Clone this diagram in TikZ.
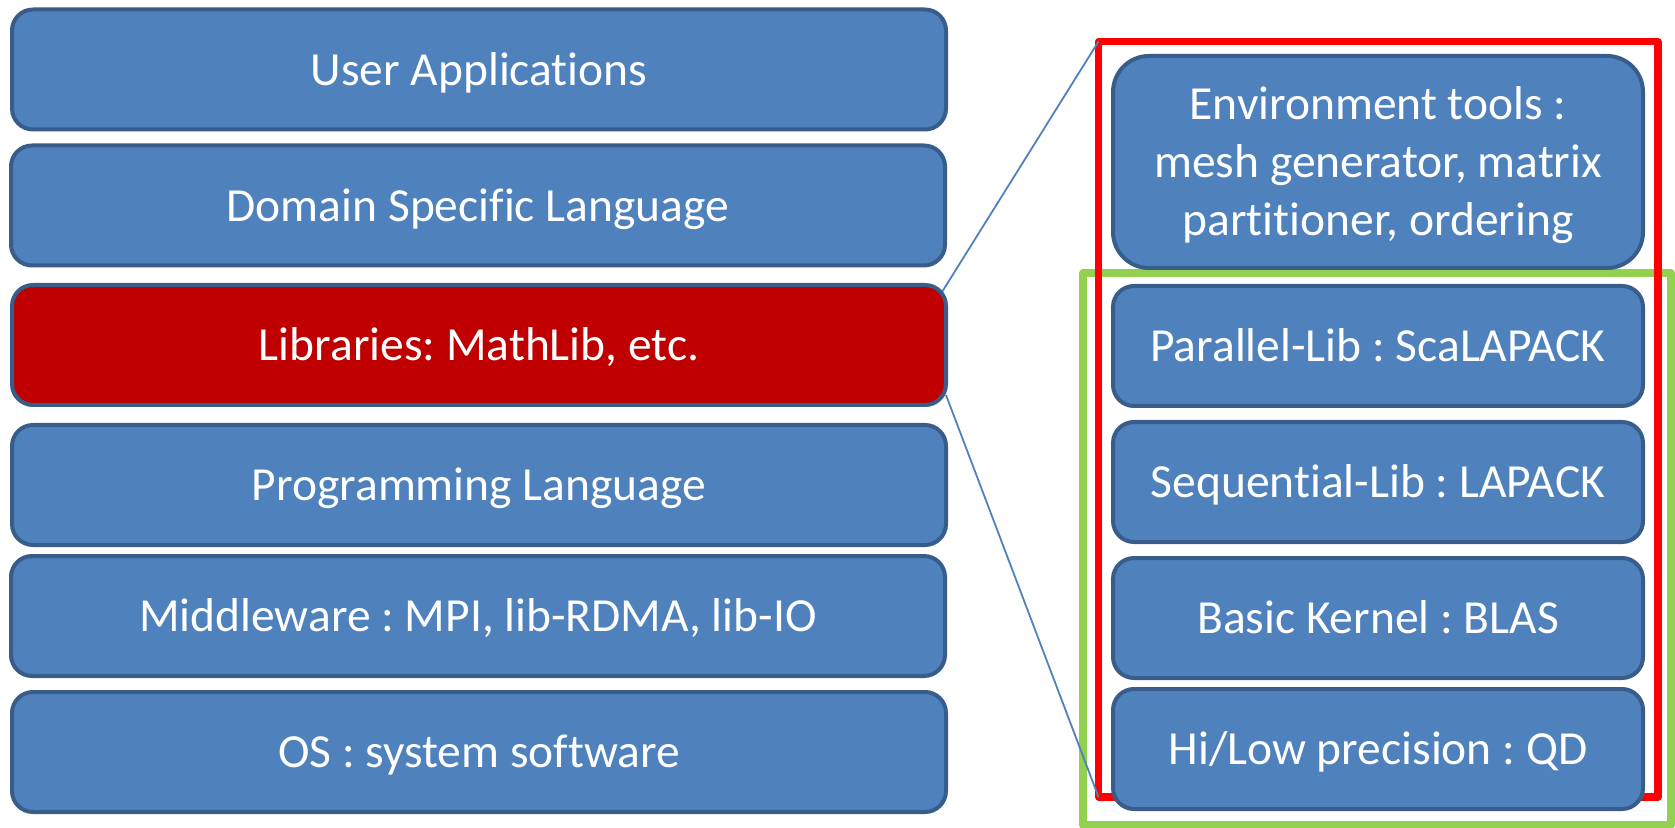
\documentclass[tikz,border=0pt]{standalone}
\usepackage{fontspec}
\setmainfont{Carlito}[Ligatures=NoCommon]
\usetikzlibrary{calc}
\pgfdeclarelayer{background}
\pgfsetlayers{background,main}
\definecolor{boxfill}{HTML}{4F81BD}
\definecolor{boxline}{HTML}{385D8A}
\definecolor{libred}{HTML}{C00000}
\definecolor{framered}{HTML}{FF0000}
\definecolor{framegreen}{HTML}{92D050}
\begin{document}
\begin{tikzpicture}[x=0.5pt,y=-0.5pt,
  layerbox/.style={draw=boxline, fill=boxfill, line width=2pt,
    rounded corners=10.5pt, text=white,
    font=\fontsize{23.75}{29}\selectfont\frenchspacing,
    text height=15.6pt, text depth=0pt, inner sep=0pt, outer sep=0pt},
  stackbox/.style={layerbox, minimum width=467pt, minimum height=60pt},
  partbox/.style={layerbox, minimum width=265pt, minimum height=60pt},
  framebox/.style={draw=#1, line width=3.6pt, line join=round,
    inner sep=0pt, outer sep=0pt},
  zoomline/.style={draw=boxfill, line width=0.9pt}]
\useasboundingbox (0,0) rectangle (1675,828);

% software stack
\node[stackbox] (apps) at (479,69.5) {User Applications};
\node[stackbox] (dsl)  at (478,205.5) {Domain Specific Language};
\node[stackbox, fill=libred] (lib) at (479,345) {Libraries: MathLib, etc.};
\node[stackbox] (lang) at (479,485) {Programming Language};
\node[stackbox] (mid)  at (478,616) {Middleware : MPI, lib-RDMA, lib-IO};
\node[stackbox] (os)   at (479,752) {OS : system software};

% library components
\node[partbox, minimum height=106pt, rounded corners=18pt,
      text height=15.3pt, text depth=57.6pt] (env) at (1378,162)
  {\begin{tabular}[t]{@{}c@{}}Environment tools :\\mesh generator, matrix\\
   partitioner, ordering\end{tabular}};
\node[partbox] (par) at (1378,346) {Parallel-Lib : ScaLAPACK};
\node[partbox] (seq) at (1378,482) {Sequential-Lib : LAPACK};
\node[partbox] (ker) at (1378,618) {Basic Kernel : BLAS};
\node[partbox] (prec) at (1378,749) {Hi/Low precision : QD};

\begin{pgfonlayer}{background}
  \node[framebox=framegreen, line width=3.8pt, minimum width=294pt,
        minimum height=276pt] (numframe) at (1377,549) {};
  \node[framebox=framered, minimum width=279.75pt,
        minimum height=377.75pt] (libframe) at (1378.25,419.25) {};
  \draw[zoomline] ($(lib.north east)+(-4,7)$) -- (libframe.north west);
  \draw[zoomline] ($(lib.south east)+(0,-10)$) -- (libframe.south west);
\end{pgfonlayer}
\end{tikzpicture}
\end{document}
